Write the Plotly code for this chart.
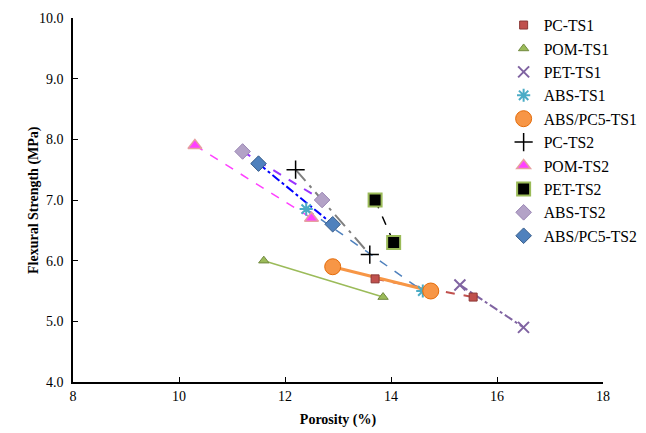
import plotly.graph_objects as go

names = ["PC-TS1", "POM-TS1", "PET-TS1", "ABS-TS1", "ABS/PC5-TS1",
         "PC-TS2", "POM-TS2", "PET-TS2", "ABS-TS2", "ABS/PC5-TS2"]
porosity = [
    [13.7, 15.55],
    [11.6, 13.85],
    [15.3, 16.5],
    [12.4, 14.6],
    [12.9, 14.75],
    [12.2, 13.6],
    [10.3, 12.5],
    [13.7, 14.05],
    [11.2, 12.7],
    [11.5, 12.9],
]
strength = [
    [5.7, 5.4],
    [6.0, 5.4],
    [5.6, 4.9],
    [6.85, 5.5],
    [5.9, 5.5],
    [7.5, 6.1],
    [7.9, 6.7],
    [7.0, 6.3],
    [7.8, 7.0],
    [7.6, 6.6],
]
x_title = "Porosity (%)"
y_title = "Flexural Strength (MPa)"

marker_styles = [
    dict(symbol="square", color="#C0504D", size=8, line=dict(color="#8C3836", width=1)),
    dict(symbol="triangle-up", color="#9BBB59", size=9, line=dict(color="#71893F", width=1)),
    dict(symbol="x-thin", color="#8064A2", size=11, line=dict(color="#8064A2", width=2)),
    dict(symbol="asterisk", color="#4BACC6", size=11, line=dict(color="#4BACC6", width=2)),
    dict(symbol="circle", color="#F79646", size=16, line=dict(color="#E46C0A", width=1)),
    dict(symbol="cross-thin", color="black", size=13, line=dict(color="black", width=1.5)),
    dict(symbol="triangle-up", color="#FF40FF", size=12, line=dict(color="#E6A0A0", width=1.5)),
    dict(symbol="square", color="black", size=13, line=dict(color="#9BBB59", width=2)),
    dict(symbol="diamond", color="#B3A2C7", size=12, line=dict(color="#9A86B4", width=1)),
    dict(symbol="diamond", color="#4F81BD", size=12, line=dict(color="#385D8A", width=1)),
]
line_styles = [
    dict(color="#C0504D", width=2, dash="dash"),
    dict(color="#9BBB59", width=1.5, dash="solid"),
    dict(color="#8064A2", width=2, dash="dashdot"),
    dict(color="#4F81BD", width=1.5, dash="dash"),
    dict(color="#F79646", width=3, dash="solid"),
    dict(color="#7F7F7F", width=2, dash="longdashdot"),
    dict(color="#FF40FF", width=1.5, dash="dash"),
    dict(color="black", width=1.5, dash="dash"),
    dict(color="#9933FF", width=2, dash="dash"),
    dict(color="#0000FF", width=2, dash="dashdot"),
]

fig = go.Figure()
for i, n in enumerate(names):
    fig.add_trace(go.Scatter(x=porosity[i], y=strength[i], mode="lines",
                             line=line_styles[i], showlegend=False, hoverinfo="skip"))
for i, n in enumerate(names):
    fig.add_trace(go.Scatter(x=porosity[i], y=strength[i], mode="markers",
                             marker=marker_styles[i], name=n))

font = "Liberation Serif"
fig.update_layout(
    width=646, height=433,
    margin=dict(l=73, r=43, t=18, b=51, autoexpand=False),
    paper_bgcolor="white", plot_bgcolor="white",
    font=dict(family=font, size=14, color="black"),
    legend=dict(x=0.8125, y=0.69, xanchor="left", yanchor="middle",
                font=dict(family=font, size=15.7), bgcolor="rgba(0,0,0,0)",
                itemwidth=30, tracegroupgap=0),
    xaxis=dict(range=[8, 18], tickvals=[8, 10, 12, 14, 16, 18],
               showgrid=False, zeroline=False, showline=True, linecolor="black",
               linewidth=1.5, ticks="inside", ticklen=5, tickcolor="black",
               automargin=False,
               title=dict(text="<b>" + x_title + "</b>", font=dict(size=14), standoff=12)),
    yaxis=dict(range=[4, 10], tickvals=[4, 5, 6, 7, 8, 9, 10], tickformat=".1f",
               showgrid=False, zeroline=False, showline=True, linecolor="black",
               linewidth=1.5, ticks="inside", ticklen=5, tickcolor="black",
               ticklabelstandoff=5, automargin=False),
    annotations=[dict(text="<b>" + y_title + "</b>", xref="paper", yref="paper",
                      x=0, y=0.5, xanchor="center", yanchor="middle", xshift=-39,
                      textangle=-90, showarrow=False, font=dict(size=14))],
)
fig.write_html("out.html", post_script="document.body.style.margin='0';",
               config={"displayModeBar": False})
